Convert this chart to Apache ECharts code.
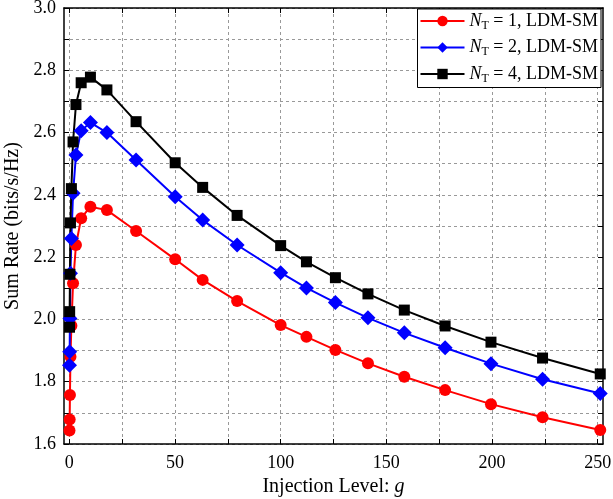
<!DOCTYPE html>
<html lang="en">
<head>
<meta charset="UTF-8">
<title>Sum Rate vs Injection Level</title>
<style>
  * { padding: 0; margin: 0; }
  body { width: 613px; height: 499px; background: #fff; }
</style>
</head>
<body>
<div id="main" style="width: 613px; height: 499px;"></div>
<script src="https://cdn.jsdelivr.net/npm/echarts@6/dist/echarts.min.js"></script>
<script>
// injection level g (linear), sampled at dB steps
var gLevels = [0.1, 0.178, 0.316, 0.562, 1, 1.78, 3.16, 5.62, 10, 17.8, 31.6,
               50.1, 63.1, 79.4, 100, 112.2, 125.9, 141.3, 158.5, 177.8, 199.5, 223.9, 251.2];

var rateNT1 = [1.643, 1.679, 1.757, 1.880, 1.980, 2.116, 2.239, 2.325, 2.362, 2.351, 2.284,
               2.193, 2.127, 2.059, 1.982, 1.944, 1.902, 1.859, 1.816, 1.773, 1.728, 1.686, 1.645];
var rateNT2 = [1.853, 1.896, 2.003, 2.148, 2.260, 2.405, 2.528, 2.606, 2.632, 2.600, 2.512,
               2.394, 2.319, 2.239, 2.150, 2.101, 2.054, 2.005, 1.957, 1.909, 1.858, 1.808, 1.762];
var rateNT4 = [1.975, 2.025, 2.145, 2.310, 2.420, 2.570, 2.690, 2.760, 2.778, 2.737, 2.635,
               2.503, 2.424, 2.334, 2.237, 2.185, 2.134, 2.082, 2.030, 1.979, 1.927, 1.876, 1.825];

var xTicks = [0, 25, 50, 75, 100, 125, 150, 175, 200, 225, 250];
var xLabels = [0, 50, 100, 150, 200, 250];

var seriesNames = ['NT1', 'NT2', 'NT4'];
var legendText = {
  NT1: '{i|N}{s|T}{t| = 1, LDM-SM}',
  NT2: '{i|N}{s|T}{t| = 2, LDM-SM}',
  NT4: '{i|N}{s|T}{t| = 4, LDM-SM}'
};

var font = 'Liberation Serif';
var pairs = function (ys) { return gLevels.map(function (g, i) { return [g, ys[i]]; }); };

var dashed = { show: true, lineStyle: { color: '#999', type: [3, 3], width: 1 } };
var frameLine = { show: true, onZero: false, lineStyle: { color: '#000', width: 1.5 } };
var tickIn = { inside: true, length: 5, customValues: xTicks, lineStyle: { color: '#000' } };

var myChart = echarts.init(document.getElementById('main'));

var option = {
  animation: false,
  backgroundColor: '#fff',
  grid: { left: 64, right: 10, top: 8, bottom: 55, outerBoundsMode: 'none', containLabel: false },
  legend: {
    right: 12, top: 9,
    orient: 'vertical',
    itemGap: 7,
    itemWidth: 44, itemHeight: 13,
    backgroundColor: '#fff',
    borderColor: '#000', borderWidth: 1,
    padding: [3, 3, 3, 2],
    formatter: function (n) { return legendText[n]; },
    textStyle: {
      fontFamily: font, fontSize: 18, color: '#000',
      rich: {
        i: { fontFamily: font, fontSize: 18, fontStyle: 'italic' },
        s: { fontFamily: font, fontSize: 12, padding: [9, 0, 0, 0] },
        t: { fontFamily: font, fontSize: 18 }
      }
    },
    data: seriesNames
  },
  xAxis: [{
    type: 'value', min: -2.5, max: 252.5,
    axisLine: frameLine,
    axisTick: tickIn,
    splitLine: dashed,
    axisLabel: {
      fontFamily: font, fontSize: 18, color: '#000', margin: 10,
      customValues: xLabels
    },
    name: 'Injection Level: {i|g}',
    nameLocation: 'middle', nameGap: 30,
    nameTextStyle: {
      fontFamily: font, fontSize: 20, color: '#000',
      rich: { i: { fontFamily: font, fontSize: 20, fontStyle: 'italic' } }
    }
  }, {
    type: 'value', position: 'top', min: -2.5, max: 252.5,
    axisLine: frameLine,
    axisTick: tickIn,
    axisLabel: { show: false }, splitLine: { show: false }
  }],
  yAxis: [{
    type: 'value', min: 1.6, max: 3.0, interval: 0.1,
    axisLine: frameLine,
    axisTick: { inside: true, length: 5, lineStyle: { color: '#000' } },
    splitLine: dashed,
    axisLabel: {
      fontFamily: font, fontSize: 18, color: '#000', margin: 8,
      formatter: function (v) { return Math.round(v * 10) % 2 === 0 ? v.toFixed(1) : ''; }
    },
    name: 'Sum Rate (bits/s/Hz)',
    nameLocation: 'middle', nameGap: 36,
    nameTextStyle: { fontFamily: font, fontSize: 20, color: '#000' }
  }, {
    type: 'value', position: 'right', min: 1.6, max: 3.0, interval: 0.1,
    axisLine: frameLine,
    axisTick: { inside: true, length: 5, lineStyle: { color: '#000' } },
    axisLabel: { show: false }, splitLine: { show: false }
  }],
  series: [{
    name: 'NT1', type: 'line', data: pairs(rateNT1),
    symbol: 'circle', symbolSize: 12,
    itemStyle: { color: '#ff0000' }, lineStyle: { color: '#ff0000', width: 2 }
  }, {
    name: 'NT2', type: 'line', data: pairs(rateNT2),
    symbol: 'diamond', symbolSize: 15,
    itemStyle: { color: '#0000ff' }, lineStyle: { color: '#0000ff', width: 2 }
  }, {
    name: 'NT4', type: 'line', data: pairs(rateNT4),
    symbol: 'rect', symbolSize: 11,
    itemStyle: { color: '#000' }, lineStyle: { color: '#000', width: 2 }
  }]
};
myChart.setOption(option);
</script>
</body>
</html>
